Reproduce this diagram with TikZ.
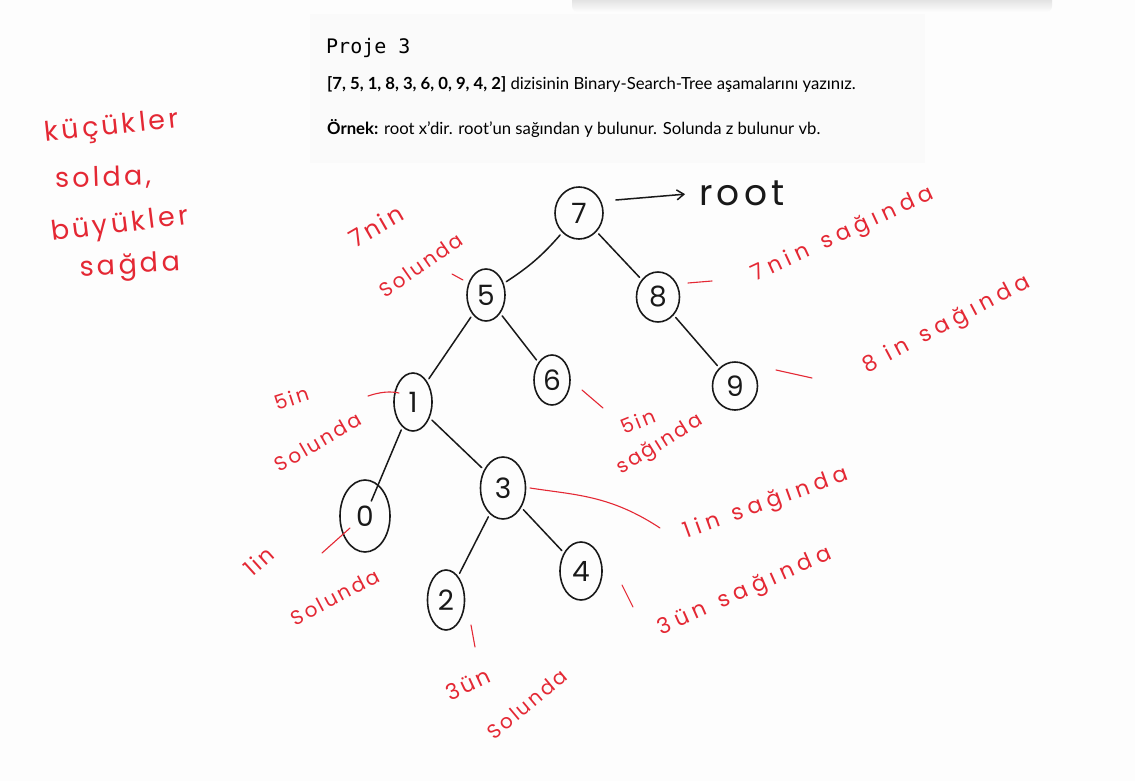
\documentclass[tikz,border=0pt]{standalone}
\usepackage{fontspec}
\setmainfont{Lato}
\newfontfamily\monof{DejaVu Sans Mono}
\newfontfamily\handf{Poppins}
\newfontfamily\handsp[LetterSpace=12]{Poppins}
\newfontfamily\handwide[LetterSpace=24]{Poppins}
\usetikzlibrary{shapes.geometric,arrows.meta}
\definecolor{ink}{RGB}{25,25,25}
\definecolor{pen}{RGB}{228,40,52}
\definecolor{panel}{RGB}{250,250,250}
\definecolor{pagebg}{RGB}{253,253,253}
\begin{document}
\begin{tikzpicture}[x=1pt,y=-1pt,
  bn/.style={draw=ink, line width=1.6pt, ellipse, inner sep=0pt, text=ink,
    font=\handf\fontsize{28}{28}\selectfont},
  edge/.style={draw=ink, line width=1.5pt, shorten <=3pt, shorten >=3pt, line cap=round},
  note/.style={text=pen, inner sep=0pt, font=\handsp\fontsize{20}{20}\selectfont},
  widenote/.style={text=pen, inner sep=0pt, font=\handwide\fontsize{22}{22}\selectfont},
  bignote/.style={text=pen, inner sep=0pt, font=\handsp\fontsize{27}{27}\selectfont},
  tick/.style={draw=pen, line width=1.1pt, line cap=round},
  txt/.style={anchor=west, inner sep=0pt, text=black, font=\fontsize{16.7}{16.7}\selectfont}]
\useasboundingbox (0,0) rectangle (1135,781);
\fill[pagebg] (0,0) rectangle (1135,781);
% top shadow
\shade[top color=black!16, bottom color=pagebg, rounded corners=6pt] (572,-6) rectangle (1052,12);
% panel
\fill[panel] (310,14) rectangle (925,163);
\node[anchor=west, inner sep=0pt, font=\monof\fontsize{20}{20}\selectfont] (title) at (326,48) {Proje 3};
\node[txt] (line1) at (327,85) {\textbf{[7, 5, 1, 8, 3, 6, 0, 9, 4, 2]} dizisinin Binary-Search-Tree aşamalarını yazınız.};
\node[txt] (line2) at (327,129) {\textbf{Örnek:} root x'dir. root'un sağından y bulunur. Solunda z bulunur vb.};
% tree nodes
\node[bn, minimum width=48pt, minimum height=52pt] (n7) at (579,213) {7};
\node[bn, minimum width=38pt, minimum height=52pt] (n5) at (486,295) {5};
\node[bn, minimum width=43pt, minimum height=50pt] (n8) at (658,297) {8};
\node[bn, minimum width=38pt, minimum height=58pt] (n1) at (413,402) {1};
\node[bn, minimum width=36pt, minimum height=50pt] (n6) at (552,380) {6};
\node[bn, minimum width=45pt, minimum height=48pt] (n9) at (735,386) {9};
\node[bn, minimum width=50pt, minimum height=72pt] (n0) at (365,516) {0};
\node[bn, minimum width=45pt, minimum height=62pt] (n3) at (503,488) {3};
\node[bn, minimum width=37pt, minimum height=60pt] (n2) at (446,600) {2};
\node[bn, minimum width=42pt, minimum height=58pt] (n4) at (581,571) {4};
\node[inner sep=0pt, text=ink, font=\handsp\fontsize{36}{36}\selectfont] (rootlbl) at (742,193) {root};
% edges
\draw[edge] (n7) to[bend left=8] (n5);
\draw[edge] (n7) -- (n8);
\draw[edge] (n5) -- (n1);
\draw[edge] (n5) -- (n6);
\draw[edge] (n8) -- (n9);
\draw[edge, shorten >=-18pt] (n1) -- (n0);
\draw[edge] (n1) -- (n3);
\draw[edge] (n3) -- (n2);
\draw[edge] (n3) -- (n4);
\draw[draw=ink, line width=1.5pt, line cap=round, -{Straight Barb[length=7pt,width=10pt]}, shorten >=14pt]
  ([xshift=12pt,yshift=13pt]n7.east) -- (rootlbl.west);
% left notes
\node[bignote, rotate=6] (k1) at (112,128) {küçükler};
\node[bignote, rotate=2] (k2) at (103,178) {solda,};
\node[bignote, rotate=7] (k3) at (120,226) {büyükler};
\node[bignote, rotate=3] (k4) at (130,267) {sağda};
% annotations
\node[note, font=\handsp\fontsize{24}{24}\selectfont, rotate=30] (a1) at (376,226) {7nin};
\node[note, rotate=35] (a2) at (421,265) {Solunda};
\node[widenote, rotate=25] (a3) at (843,235) {7nin\hspace{14pt}sağında};
\node[widenote, rotate=28] (a4) at (947,325) {8 in\hspace{14pt}sağında};
\node[note, rotate=18] (a5) at (292,398) {5in};
\node[note, rotate=30] (a6) at (318,442) {Solunda};
\node[note, rotate=22] (a7) at (638,421) {5in};
\node[note, rotate=32] (a8) at (660,445) {sağında};
\node[widenote, rotate=20] (a9) at (766,504) {1in\hspace{14pt}sağında};
\node[note, font=\handsp\fontsize{22}{22}\selectfont, rotate=42] (a10) at (259,561) {1in};
\node[note, rotate=28] (a11) at (335,597) {Solunda};
\node[widenote, rotate=24] (a12) at (745,592) {3ün\hspace{14pt}sağında};
\node[note, font=\handsp\fontsize{22}{22}\selectfont, rotate=25] (a13) at (468,684) {3ün};
\node[note, rotate=40] (a14) at (527,704) {Solunda};
% red ticks
\draw[tick] (452,274) -- (463,280);
\draw[tick] (688,283) -- (712,281);
\draw[tick] (776,370) -- (812,378);
\draw[tick] (368,396) .. controls (380,392) and (390,391) .. (399,393);
\draw[tick] (582,390) -- (603,408);
\draw[tick] (530,488) .. controls (575,495) and (610,495) .. (660,528);
\draw[tick] (322,553) -- (350,528);
\draw[tick] (622,585) -- (633,607);
\draw[tick] (471,625) -- (475,647);
\end{tikzpicture}
\end{document}
